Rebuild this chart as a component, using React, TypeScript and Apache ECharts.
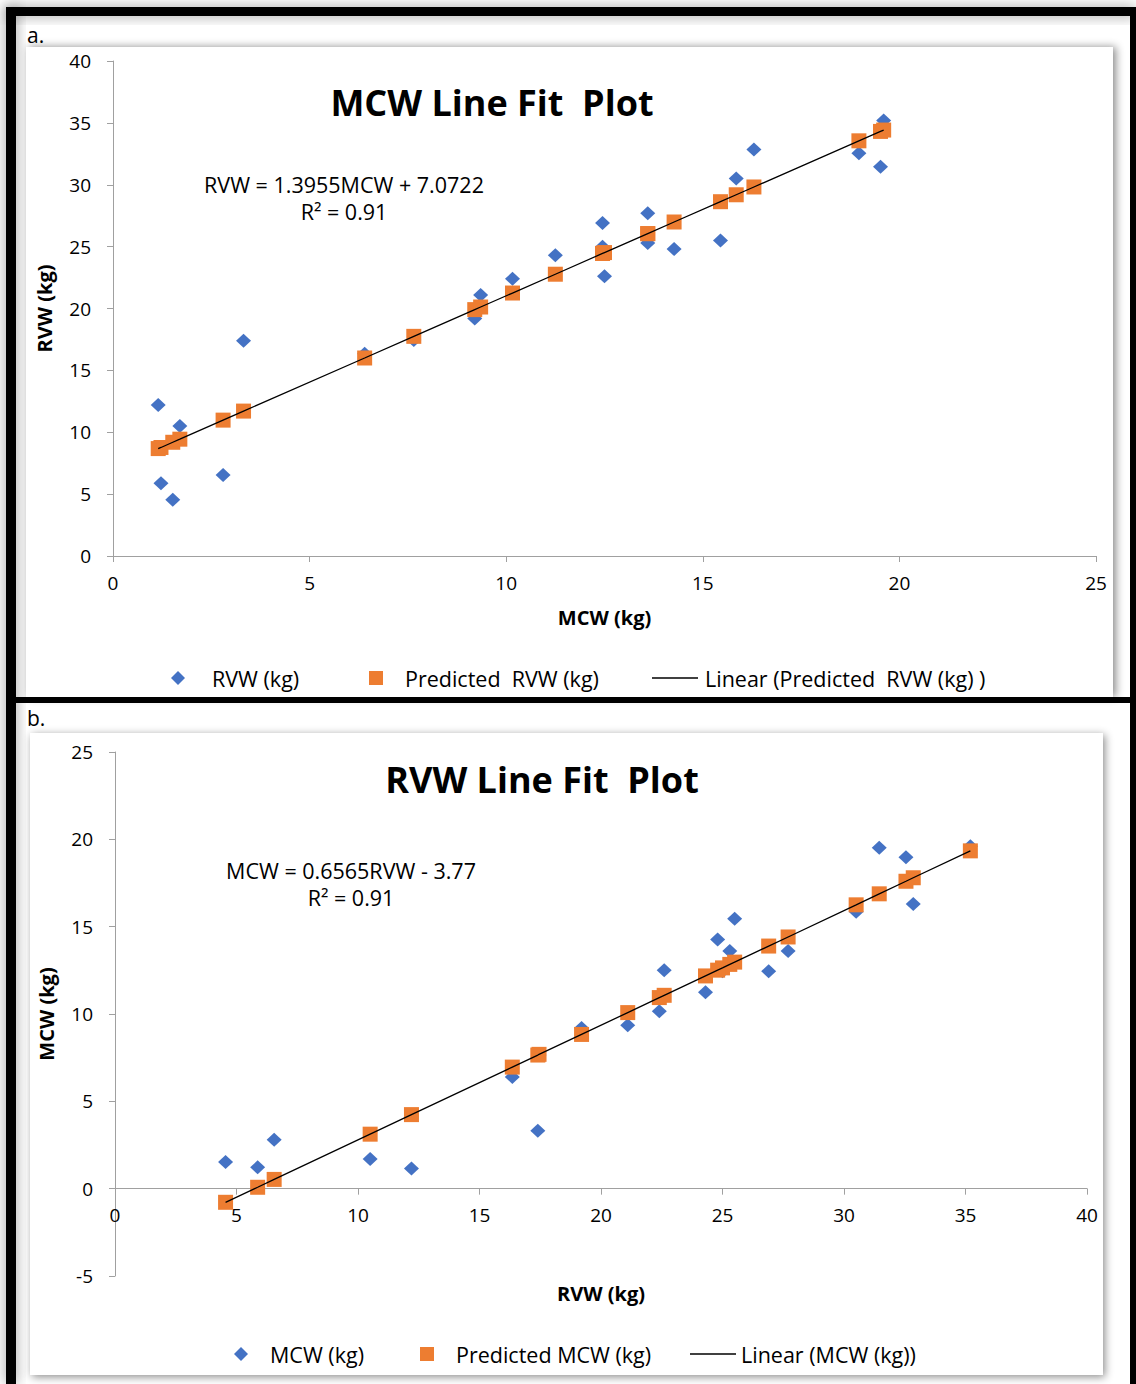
import React, { useEffect, useRef } from "react";
import * as echarts from "echarts";

// ---- data ----
const mcw = [1.15, 1.22, 1.52, 1.7, 2.8, 3.32, 6.4, 7.65, 9.2, 9.35, 10.16, 11.25, 12.45, 12.45, 12.5, 13.6, 13.6, 14.27, 15.45, 15.85, 16.3, 18.97, 19.52, 19.6];
const rvw = [12.2, 5.87, 4.55, 10.5, 6.55, 17.4, 16.35, 17.45, 19.2, 21.1, 22.4, 24.3, 26.9, 25.0, 22.6, 27.7, 25.3, 24.8, 25.5, 30.5, 32.85, 32.55, 31.45, 35.2];
const predictedRvw = [8.68, 8.77, 9.19, 9.44, 10.98, 11.71, 16.0, 17.75, 19.91, 20.12, 21.25, 22.77, 24.45, 24.45, 24.52, 26.05, 26.05, 26.99, 28.63, 29.19, 29.82, 33.55, 34.31, 34.42];
const predictedMcw = [4.24, 0.08, -0.78, 3.12, 0.53, 7.65, 6.96, 7.69, 8.83, 10.08, 10.94, 12.18, 13.89, 12.64, 11.07, 14.41, 12.84, 12.51, 12.97, 16.25, 17.8, 17.6, 16.88, 19.34];

const xTicksA = [0, 25, 5];
const yTicksA = [0, 40, 5];
const xTicksB = [0, 40, 5];
const yTicksB = [-5, 25, 5];

const titleA = "MCW Line Fit  Plot";
const titleB = "RVW Line Fit  Plot";
const eqA = ["RVW = 1.3955MCW + 7.0722", "R² = 0.91"];
const eqB = ["MCW = 0.6565RVW - 3.77", "R² = 0.91"];

const BLUE = "#4472C4";
const ORANGE = "#ED7D31";
const FONT = "'Open Sans', Lato, sans-serif";
const AXIS = "#a0a0a0";
const LINE_ICON = "path://M0,0H46V1.4H0Z";

const pairs = (xs: number[], ys: number[]) => xs.map((x, i) => [x, ys[i]]);
const sortedPairs = (xs: number[], ys: number[]) =>
  pairs(xs, ys).sort((a, b) => a[0] - b[0]);

function axisCommon(range: number[], name: string, gap: number, margin: number) {
  return {
    type: "value",
    min: range[0],
    max: range[1],
    interval: range[2],
    name,
    nameLocation: "middle",
    nameGap: gap,
    nameTextStyle: { fontFamily: FONT, fontSize: 20, fontWeight: "bold", color: "#000" },
    axisLine: { show: true, onZero: false, lineStyle: { color: AXIS, width: 1 } },
    axisTick: { show: true, inside: false, length: 6, lineStyle: { color: AXIS } },
    axisLabel: { fontFamily: FONT, fontSize: 19, color: "#000", margin },
    splitLine: { show: false },
  };
}

export default function App() {
  const ref = useRef<HTMLDivElement>(null);
  useEffect(() => {
    if (!ref.current) return;
    const chart = echarts.init(ref.current, undefined, { renderer: "svg" });
    const legendText = (pad: number) => ({
      fontFamily: FONT,
      fontSize: 21.5,
      color: "#000",
      padding: [0, 0, 0, pad],
    });
    const legendBase = { itemHeight: 14, padding: 0, selectedMode: false };
    // grid b: top 752, height 524, y from -5..25 -> zero line sits 87.33px above bottom
    const gridBTop = 752;
    const gridBHeight = 524;
    const zeroOffsetB = -(gridBHeight * (0 - yTicksB[0])) / (yTicksB[1] - yTicksB[0]);
    const titleStyle = { fontFamily: FONT, fontSize: 36, fontWeight: "bold", color: "#000" };
    const eqStyle = (text: string) => ({
      text, fontFamily: FONT, fontSize: 21.5, fill: "#000", textAlign: "center", textVerticalAlign: "middle",
    });
    const option: any = {
      animation: false,
      backgroundColor: "#ffffff",
      title: [
        { text: titleA, left: 492, top: 84, padding: 0, textAlign: "center", textStyle: titleStyle },
        { text: titleB, left: 542, top: 761, padding: 0, textAlign: "center", textStyle: titleStyle },
      ],
      grid: [
        { left: 113, top: 61, width: 983, height: 495, containLabel: false, outerBoundsMode: "none" },
        { left: 115, top: gridBTop, width: 972, height: gridBHeight, containLabel: false, outerBoundsMode: "none" },
      ],
      xAxis: [
        { ...axisCommon(xTicksA, "MCW (kg)", 51, 17), gridIndex: 0 },
        { ...axisCommon(xTicksB, "RVW (kg)", 95, 17), gridIndex: 1, offset: zeroOffsetB },
      ],
      yAxis: [
        { ...axisCommon(yTicksA, "RVW (kg)", 59, 22), gridIndex: 0 },
        { ...axisCommon(yTicksB, "MCW (kg)", 59, 22), gridIndex: 1 },
      ],
      legend: [
        {
          ...legendBase,
          data: [{ name: "RVW (kg)", icon: "diamond", textStyle: legendText(22) }],
          left: 171, top: 667, itemWidth: 14,
        },
        {
          ...legendBase,
          data: [{ name: "Predicted  RVW (kg)", icon: "rect", textStyle: legendText(17) }],
          left: 369, top: 667, itemWidth: 14,
        },
        {
          ...legendBase,
          data: [{ name: "Linear (Predicted  RVW (kg) )", icon: LINE_ICON, textStyle: legendText(2) }],
          left: 652, top: 667, itemWidth: 46,
        },
        {
          ...legendBase,
          data: [{ name: "MCW (kg)", icon: "diamond", textStyle: legendText(17) }],
          left: 234, top: 1343, itemWidth: 14,
        },
        {
          ...legendBase,
          data: [{ name: "Predicted MCW (kg)", icon: "rect", textStyle: legendText(17) }],
          left: 420, top: 1343, itemWidth: 14,
        },
        {
          ...legendBase,
          data: [{ name: "Linear (MCW (kg))", icon: LINE_ICON, textStyle: legendText(0) }],
          left: 690, top: 1343, itemWidth: 46,
        },
      ],
      series: [
        {
          name: "RVW (kg)", type: "scatter", xAxisIndex: 0, yAxisIndex: 0,
          symbol: "diamond", symbolSize: [15, 14],
          itemStyle: { color: BLUE, opacity: 1 },
          data: pairs(mcw, rvw), z: 2,
        },
        {
          name: "Predicted  RVW (kg)", type: "scatter", xAxisIndex: 0, yAxisIndex: 0,
          symbol: "rect", symbolSize: 15,
          itemStyle: { color: ORANGE, opacity: 1 },
          data: pairs(mcw, predictedRvw), z: 3,
        },
        {
          name: "Linear (Predicted  RVW (kg) )", type: "line", xAxisIndex: 0, yAxisIndex: 0,
          symbol: "none",
          lineStyle: { color: "#000", width: 1.3 },
          itemStyle: { color: "#000" },
          data: sortedPairs(mcw, predictedRvw), z: 4,
        },
        {
          name: "MCW (kg)", type: "scatter", xAxisIndex: 1, yAxisIndex: 1,
          symbol: "diamond", symbolSize: [15, 14],
          itemStyle: { color: BLUE, opacity: 1 },
          data: pairs(rvw, mcw), z: 2,
        },
        {
          name: "Predicted MCW (kg)", type: "scatter", xAxisIndex: 1, yAxisIndex: 1,
          symbol: "rect", symbolSize: 15,
          itemStyle: { color: ORANGE, opacity: 1 },
          data: pairs(rvw, predictedMcw), z: 3,
        },
        {
          name: "Linear (MCW (kg))", type: "line", xAxisIndex: 1, yAxisIndex: 1,
          symbol: "none",
          lineStyle: { color: "#000", width: 1.3 },
          itemStyle: { color: "#000" },
          data: sortedPairs(rvw, predictedMcw), z: 4,
        },
      ],
      graphic: {
        elements: [
          // panels
          {
            type: "rect", z: -10, silent: true,
            shape: { x: 26, y: 47, width: 1087, height: 650 },
            style: { fill: "#fff", shadowBlur: 8, shadowColor: "rgba(0,0,0,0.45)", shadowOffsetX: 3, shadowOffsetY: 0 },
          },
          {
            type: "rect", z: -10, silent: true,
            shape: { x: 30, y: 733, width: 1073, height: 642 },
            style: { fill: "#fff", shadowBlur: 8, shadowColor: "rgba(0,0,0,0.45)", shadowOffsetX: 2, shadowOffsetY: 2 },
          },
          // frame
          {
            type: "rect", z: 100, silent: true,
            shape: { x: 6, y: 7, width: 1130, height: 9 },
            style: { fill: "#000", shadowBlur: 14, shadowColor: "rgba(0,0,0,0.4)" },
          },
          {
            type: "rect", z: 100, silent: true,
            shape: { x: 6, y: 7, width: 10, height: 1377 },
            style: { fill: "#000", shadowBlur: 14, shadowColor: "rgba(0,0,0,0.4)" },
          },
          {
            type: "rect", z: 100, silent: true,
            shape: { x: 1130, y: 7, width: 6, height: 1377 },
            style: { fill: "#000" },
          },
          {
            type: "rect", z: 100, silent: true,
            shape: { x: 6, y: 697, width: 1130, height: 6 },
            style: { fill: "#000" },
          },
          // panel letters
          {
            type: "text", z: 101, x: 27, y: 35,
            style: { text: "a.", fontFamily: FONT, fontSize: 21, fill: "#000", textVerticalAlign: "middle" },
          },
          {
            type: "text", z: 101, x: 27, y: 718,
            style: { text: "b.", fontFamily: FONT, fontSize: 21, fill: "#000", textVerticalAlign: "middle" },
          },
          // equations
          { type: "text", z: 10, x: 344, y: 184, style: eqStyle(eqA[0]) },
          { type: "text", z: 10, x: 344, y: 211, style: eqStyle(eqA[1]) },
          { type: "text", z: 10, x: 351, y: 870, style: eqStyle(eqB[0]) },
          { type: "text", z: 10, x: 351, y: 897, style: eqStyle(eqB[1]) },
        ],
      },
    };
    chart.setOption(option);
    return () => chart.dispose();
  }, []);
  return (
    <div
      ref={ref}
      style={{ position: "absolute", left: 0, top: 0, width: 1136, height: 1384 }}
    />
  );
}
